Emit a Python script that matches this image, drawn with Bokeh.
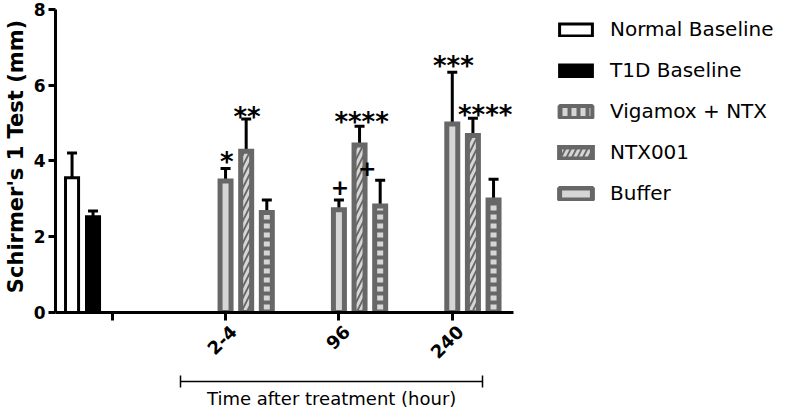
import math
from bokeh.plotting import figure
from bokeh.models import (ColumnDataSource, Range1d, FixedTicker, Whisker, TeeHead,
                          Legend, LegendItem, LinearAxis)
from bokeh.core.properties import value
from bokeh.embed import file_html
from bokeh.resources import INLINE

# ---------------- data ----------------
baseline_labels = ["Normal Baseline", "T1D Baseline"]
baseline_mean = [3.56, 2.53]
baseline_sem = [0.65, 0.15]

time_labels = ["2-4", "96", "240"]
vigamox_mean = [3.47, 2.71, 4.98]
vigamox_sem = [0.33, 0.26, 1.36]
ntx001_mean = [4.26, 4.42, 4.67]
ntx001_sem = [0.85, 0.50, 0.46]
buffer_mean = [2.64, 2.81, 2.97]
buffer_sem = [0.33, 0.68, 0.55]

y_ticks = [0, 2, 4, 6, 8]

star_text = ["*", "**", "****", "***", "****"]
star_x = [1.51, 1.69, 2.70, 3.51, 3.79]
star_y = [4.08, 5.28, 5.13, 6.62, 5.31]
plus_text = ["+", "+"]
plus_x = [2.51, 2.75]
plus_y = [3.29, 3.78]

x_title = "Time after treatment (hour)"
y_title = "Schirmer's 1 Test (mm)"

# ---------------- style / layout ----------------
DARK = "#676767"
LIGHT = "#d6d6d6"
FONT = "DejaVu Sans"
BASE_X = [0.146, 0.331]
BASE_W = 0.115
GROUP0 = 1.5
STEP = 0.182
TW = 0.097
X_AXIS_END = 4.04
LABEL_SHIFT = 0.07
BRACKET = (1.103, 3.769)

p = figure(width=787, height=411, x_range=Range1d(0, 6.457), y_range=Range1d(0, 8.2376),
           output_backend="svg", toolbar_location=None,
           min_border_left=55, min_border_right=0, min_border_top=0, min_border_bottom=99)
p.xgrid.visible = False
p.ygrid.visible = False
p.outline_line_color = None
p.background_fill_color = "white"
p.border_fill_color = "white"

# baseline bars
src_n = ColumnDataSource(dict(x=[BASE_X[0]], top=[baseline_mean[0]],
                              upper=[baseline_mean[0] + baseline_sem[0]]))
src_t = ColumnDataSource(dict(x=[BASE_X[1]], top=[baseline_mean[1]],
                              upper=[baseline_mean[1] + baseline_sem[1]]))
r_n = p.vbar(x="x", top="top", bottom=0, width=BASE_W, source=src_n,
             fill_color="white", line_color="black", line_width=3, line_join="miter")
r_t = p.vbar(x="x", top="top", bottom=0, width=BASE_W, source=src_t,
             fill_color="black", line_color="black", line_width=3, line_join="miter")

gx = [GROUP0 + i for i in range(len(time_labels))]


def make_src(means, sems, k):
    return ColumnDataSource(dict(x=[g + k * STEP for g in gx], top=means,
                                 upper=[m + s for m, s in zip(means, sems)]))


src_v = make_src(vigamox_mean, vigamox_sem, 0)
src_x = make_src(ntx001_mean, ntx001_sem, 1)
src_b = make_src(buffer_mean, buffer_sem, 2)

r_v = p.vbar(x="x", top="top", bottom=0, width=TW, source=src_v,
             fill_color=LIGHT, line_color=DARK, line_width=5, line_join="miter")
r_x = p.vbar(x="x", top="top", bottom=0, width=TW, source=src_x,
             fill_color=DARK, hatch_pattern="right_diagonal_line", hatch_color=LIGHT,
             hatch_scale=11, hatch_weight=3, line_color=DARK, line_width=5, line_join="miter")
r_b = p.vbar(x="x", top="top", bottom=0, width=TW, source=src_b,
             fill_color=LIGHT, hatch_pattern="horizontal_line", hatch_color=DARK,
             hatch_scale=9, hatch_weight=4, line_color=DARK, line_width=5, line_join="miter")

for s in (src_n, src_t, src_v, src_x, src_b):
    p.add_layout(Whisker(source=s, base="x", lower="top", upper="upper",
                         line_color="black", line_width=3,
                         upper_head=TeeHead(size=10, line_width=3, line_color="black"),
                         lower_head=None))

# significance marks
p.text(x=star_x, y=star_y, text=star_text, text_font=value(FONT), text_font_style="bold",
       text_font_size="26px", text_align="center", text_baseline="middle", y_offset=4,
       text_color="black")
p.text(x=plus_x, y=plus_y, text=plus_text, text_font=value(FONT), text_font_style="bold",
       text_font_size="22px", text_align="center", text_baseline="middle", y_offset=-1,
       text_color="black")

# hidden renderers that only supply the legend swatches of the reference
d_v = p.vbar(x="x", top="top", bottom=0, width=TW, source=src_b, visible=False,
             fill_color=LIGHT, hatch_pattern="vertical_line", hatch_color=DARK,
             hatch_scale=9, hatch_weight=4, line_color=DARK, line_width=4)
d_b = p.vbar(x="x", top="top", bottom=0, width=TW, source=src_v, visible=False,
             fill_color=LIGHT, line_color=DARK, line_width=5)

legend = Legend(items=[LegendItem(label=baseline_labels[0], renderers=[r_n]),
                       LegendItem(label=baseline_labels[1], renderers=[r_t]),
                       LegendItem(label="Vigamox + NTX", renderers=[d_v]),
                       LegendItem(label="NTX001", renderers=[r_x]),
                       LegendItem(label="Buffer", renderers=[d_b])],
                location=(500, 106), glyph_width=41, glyph_height=15, label_standoff=14,
                spacing=15, label_height=26, padding=0, margin=0,
                border_line_color=None, background_fill_alpha=0,
                inactive_fill_alpha=0, click_policy="none",
                label_text_font=FONT, label_text_font_size="20px", label_text_color="black")
p.add_layout(legend)

# axes
for ax in (p.xaxis[0], p.yaxis[0]):
    ax.axis_line_width = 3
    ax.axis_line_color = "black"
    ax.major_tick_line_width = 3
    ax.major_tick_line_color = "black"
    ax.major_tick_in = 0
    ax.major_tick_out = 7
    ax.minor_tick_line_color = None
    ax.major_label_text_font = FONT
    ax.major_label_text_font_style = "bold"
    ax.major_label_text_color = "black"

p.yaxis.ticker = FixedTicker(ticks=y_ticks)
p.yaxis.bounds = (0, 8)
p.yaxis.major_label_text_font_size = "17px"
p.yaxis.major_label_standoff = 3
p.yaxis.axis_label = y_title
p.yaxis.axis_label_text_font = FONT
p.yaxis.axis_label_text_font_style = "bold"
p.yaxis.axis_label_text_font_size = "21px"
p.yaxis.axis_label_text_color = "black"
p.yaxis.axis_label_standoff = 3

# main x axis: line and tick marks only
xt = [0.5] + gx
p.xaxis.ticker = FixedTicker(ticks=xt)
p.xaxis.bounds = (0, X_AXIS_END)
p.xaxis.major_tick_out = 8
p.xaxis.major_label_overrides = {t: "" for t in xt}
p.xaxis.major_label_text_font_size = "0px"
p.xaxis.major_label_standoff = 0

# rotated time labels (slightly right of each tick, as in the reference)
lx = [g + LABEL_SHIFT for g in gx]
label_ax = LinearAxis(ticker=FixedTicker(ticks=lx), axis_line_color=None,
                      major_tick_line_color=None, major_tick_in=0, major_tick_out=0,
                      minor_tick_line_color=None, major_label_standoff=8,
                      major_label_overrides={x: t for x, t in zip(lx, time_labels)},
                      major_label_orientation=math.pi / 4,
                      major_label_text_font=FONT, major_label_text_font_size="18px",
                      major_label_text_font_style="bold", major_label_text_color="black",
                      axis_label=" ", axis_label_text_font_size="10px", axis_label_standoff=0)
p.add_layout(label_ax, "below")

# bracket axis (|----|)
bracket = LinearAxis(bounds=BRACKET, ticker=FixedTicker(ticks=list(BRACKET)),
                     axis_line_width=1.5, axis_line_color="black",
                     major_tick_line_width=1.5, major_tick_line_color="black",
                     major_tick_in=6, major_tick_out=6, minor_tick_line_color=None,
                     major_label_text_font_size="0px", major_label_standoff=0,
                     major_label_overrides={BRACKET[0]: "", BRACKET[1]: ""})
p.add_layout(bracket, "below")

# title axis: one tick in the bracket's centre carrying the x title
mid = (BRACKET[0] + BRACKET[1]) / 2
title_ax = LinearAxis(ticker=FixedTicker(ticks=[mid]), axis_line_color=None,
                      major_tick_line_color=None, major_tick_in=0, major_tick_out=0,
                      minor_tick_line_color=None, major_label_standoff=0,
                      major_label_overrides={mid: x_title},
                      major_label_text_font=FONT, major_label_text_font_size="18px",
                      major_label_text_font_style="normal", major_label_text_color="black")
p.add_layout(title_ax, "below")

open("out.html", "w").write(file_html(p, INLINE))
